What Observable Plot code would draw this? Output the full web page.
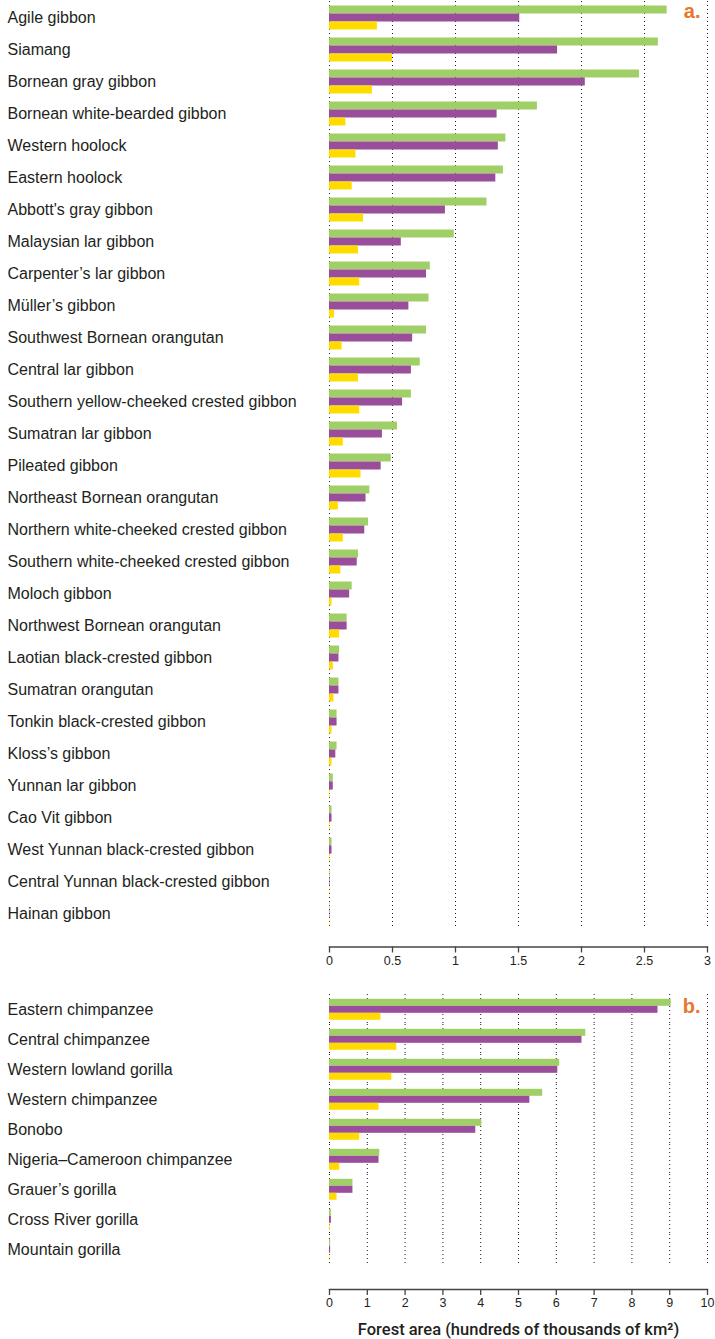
<!DOCTYPE html>
<html>
<head>
<meta charset="utf-8">
<script src="https://cdn.jsdelivr.net/npm/d3@7"></script>
<script src="https://cdn.jsdelivr.net/npm/@observablehq/plot@0.6"></script>
<style>
  body { margin: 0; background: #fff; }
  #chart svg { display: block; }
</style>
</head>
<body>
<div id="chart"></div>
<script>
// ---- Data (forest area, hundreds of thousands of km²) ----
const seriesKeys = ["s1", "s2", "s3"];

// Panel a: Asian apes
const speciesA = [
  "Agile gibbon", "Siamang", "Bornean gray gibbon", "Bornean white-bearded gibbon",
  "Western hoolock", "Eastern hoolock", "Abbott's gray gibbon", "Malaysian lar gibbon",
  "Carpenter’s lar gibbon", "Müller’s gibbon", "Southwest Bornean orangutan", "Central lar gibbon",
  "Southern yellow-cheeked crested gibbon", "Sumatran lar gibbon", "Pileated gibbon",
  "Northeast Bornean orangutan", "Northern white-cheeked crested gibbon",
  "Southern white-cheeked crested gibbon", "Moloch gibbon", "Northwest Bornean orangutan",
  "Laotian black-crested gibbon", "Sumatran orangutan", "Tonkin black-crested gibbon",
  "Kloss’s gibbon", "Yunnan lar gibbon", "Cao Vit gibbon", "West Yunnan black-crested gibbon",
  "Central Yunnan black-crested gibbon", "Hainan gibbon"
];
const greenA  = [2.68, 2.61, 2.46, 1.65, 1.40, 1.38, 1.25, 0.99, 0.80, 0.79, 0.77, 0.72, 0.65, 0.54, 0.49, 0.32, 0.31, 0.23, 0.18, 0.14, 0.08, 0.075, 0.06, 0.06, 0.03, 0.02, 0.02, 0.005, 0.004];
const purpleA = [1.51, 1.81, 2.03, 1.33, 1.34, 1.32, 0.92, 0.57, 0.77, 0.63, 0.66, 0.65, 0.58, 0.42, 0.41, 0.29, 0.28, 0.22, 0.16, 0.14, 0.075, 0.075, 0.06, 0.05, 0.03, 0.02, 0.02, 0.005, 0.004];
const yellowA = [0.38, 0.50, 0.34, 0.13, 0.21, 0.18, 0.27, 0.23, 0.24, 0.04, 0.10, 0.23, 0.24, 0.11, 0.25, 0.07, 0.11, 0.09, 0.02, 0.08, 0.03, 0.035, 0.02, 0.02, 0.005, 0.005, 0.005, 0.003, 0.002];
const ticksA = [0, 0.5, 1, 1.5, 2, 2.5, 3];

// Panel b: African apes
const speciesB = [
  "Eastern chimpanzee", "Central chimpanzee", "Western lowland gorilla", "Western chimpanzee",
  "Bonobo", "Nigeria–Cameroon chimpanzee", "Grauer’s gorilla", "Cross River gorilla", "Mountain gorilla"
];
const greenB  = [9.04, 6.78, 6.09, 5.64, 4.03, 1.33, 0.62, 0.05, 0.03];
const purpleB = [8.69, 6.68, 6.04, 5.30, 3.87, 1.31, 0.62, 0.05, 0.03];
const yellowB = [1.36, 1.78, 1.65, 1.31, 0.80, 0.27, 0.20, 0.02, 0.01];
const ticksB = [0, 1, 2, 3, 4, 5, 6, 7, 8, 9, 10];

const axisTitle = "Forest area (hundreds of thousands of km²)";

// ---- Drawing ----
const FONT = "'Liberation Sans', Arial, Helvetica, sans-serif";
const INK = "#231f20";

function panel({species, g, p, y, ticks, tag, height, marginTop, marginBottom, axisGap, title, tagDy}) {
  const rows = species.flatMap((sp, i) => [
    {species: sp, series: "s1", value: g[i]},
    {species: sp, series: "s2", value: p[i]},
    {species: sp, series: "s3", value: y[i]}
  ]);
  const marks = [
    Plot.gridX(ticks, {stroke: "#000", strokeOpacity: 0.9, strokeDasharray: "1,3"}),
    Plot.barX(rows, {fy: "species", y: "series", x: "value", fill: "series"}),
    Plot.axisFy({anchor: "left", tickSize: 0, tickPadding: 322, textAnchor: "start",
                 fontSize: 16, fill: INK, label: null}),
    Plot.axisX(ticks, {anchor: "bottom", dy: axisGap, tickSize: 6, tickPadding: 3,
                       fontSize: 12.5, fill: INK, stroke: "#444", strokeWidth: 1.3,
                       tickFormat: d => String(d), label: null}),
    Plot.frame({anchor: "bottom", facetAnchor: "bottom", dy: axisGap, stroke: "#444", strokeWidth: 1.3}),
    Plot.text([tag], {fy: [species[0]], y: ["s1"], frameAnchor: "right", dx: -7, dy: tagDy,
                      text: d => d, textAnchor: "end", fontSize: 20, fontWeight: "bold", fill: "#e8772e"})
  ];
  if (title) {
    marks.push(Plot.text([title], {frameAnchor: "bottom", facetAnchor: "bottom", dy: axisGap + 45,
                                   text: d => d, fontSize: 16.5, fontWeight: 500,
                                   fontFamily: "Roboto, 'Liberation Sans', sans-serif", fill: INK}));
  }
  return Plot.plot({
    width: 715, height, marginLeft: 329, marginRight: 8, marginTop, marginBottom,
    style: {fontFamily: FONT, background: "#fff", color: INK, overflow: "visible"},
    x: {domain: [ticks[0], ticks[ticks.length - 1]]},
    y: {domain: seriesKeys, paddingInner: 0, paddingOuter: 0.5, axis: null},
    fy: {domain: species, padding: 0},
    color: {domain: seriesKeys, range: ["#a0cf67", "#9a4d9b", "#ffdb00"]},
    marks
  });
}

const chart = document.getElementById("chart");
chart.append(panel({
  species: speciesA, g: greenA, p: purpleA, y: yellowA, ticks: ticksA, tag: "a.",
  height: 980, marginTop: 0.5, marginBottom: 51.5, axisGap: 17.5, title: null, tagDy: 2
}));
chart.append(panel({
  species: speciesB, g: greenB, p: purpleB, y: yellowB, ticks: ticksB, tag: "b.",
  height: 359, marginTop: 11.2, marginBottom: 72.4, axisGap: 25, title: axisTitle, tagDy: 4
}));
</script>
</body>
</html>
